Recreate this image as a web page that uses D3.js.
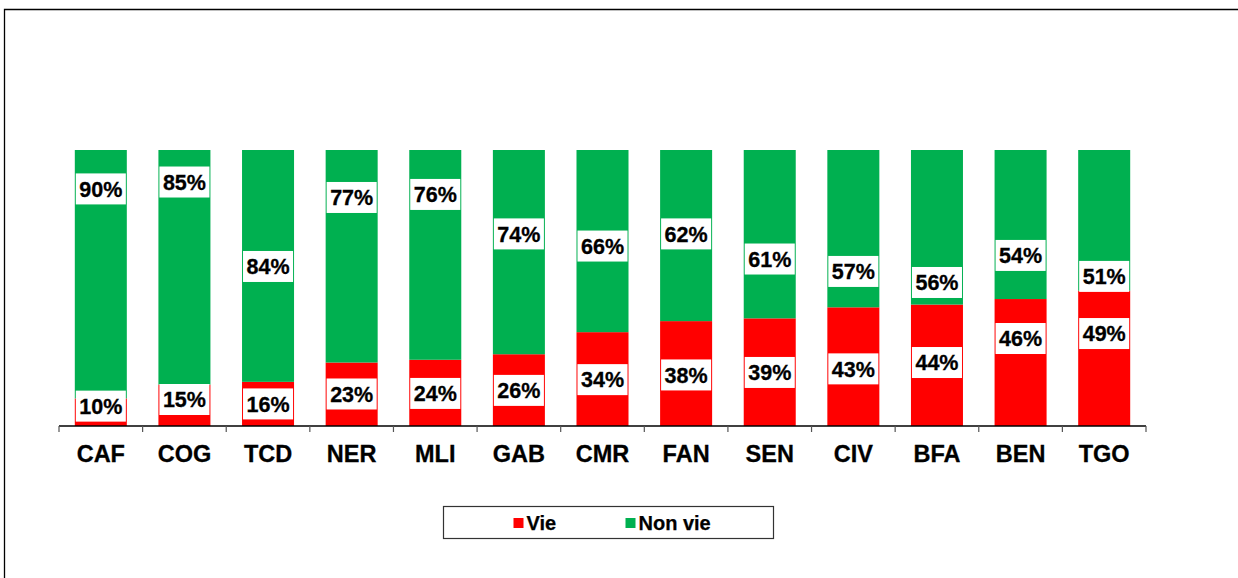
<!DOCTYPE html>
<html>
<head>
<meta charset="utf-8">
<script src="https://cdn.jsdelivr.net/npm/d3@7"></script>
<style>
  html, body { margin: 0; padding: 0; background: #fff; }
  svg { display: block; font-family: "Liberation Sans", Arial, sans-serif; }
</style>
</head>
<body>
<svg width="1238" height="578"></svg>
<script>
const countries = ["CAF", "COG", "TCD", "NER", "MLI", "GAB", "CMR", "FAN", "SEN", "CIV", "BFA", "BEN", "TGO"];
const vie    = [10, 15, 16, 23, 24, 26, 34, 38, 39, 43, 44, 46, 49];
const nonVie = [90, 85, 84, 77, 76, 74, 66, 62, 61, 57, 56, 54, 51];
// where the labels were dragged to (in % of the bar)
const vieLabelAt    = [7.2, 9.6, 8.0, 11.6, 11.8, 12.9, 16.8, 18.5, 19.4, 20.7, 23.0, 31.7, 33.5];
const nonVieLabelAt = [85.9, 88.4, 57.8, 82.8, 83.9, 69.6, 65.2, 69.6, 60.5, 56.0, 52.0, 61.8, 54.2];

const series = [
  { name: "Vie", values: vie, labelAt: vieLabelAt, color: "#FF0000" },
  { name: "Non vie", values: nonVie, labelAt: nonVieLabelAt, color: "#00B050" }
];

const svg = d3.select("svg");

// cadre de l'image
svg.append("path")
  .attr("d", "M4.5,578 V9.5 H1238")
  .attr("fill", "none")
  .attr("stroke", "#000")
  .attr("stroke-width", 1.3);

const x = d3.scaleBand()
  .domain(countries)
  .range([59, 1146])
  .paddingInner(0.378)
  .paddingOuter(0.189);

const y = d3.scaleLinear().domain([0, 100]).range([426, 150]);

// empilement : Vie en bas, Non vie au-dessus
const rows = countries.map((c, i) => ({ country: c, Vie: vie[i], "Non vie": nonVie[i] }));
const stacked = d3.stack().keys(series.map(s => s.name))(rows);

const g = svg.append("g");

stacked.forEach((layer, si) => {
  g.selectAll(".bar-" + si)
    .data(layer)
    .join("rect")
    .attr("x", d => x(d.data.country))
    .attr("width", x.bandwidth())
    .attr("y", d => y(d[1]))
    .attr("height", d => y(d[0]) - y(d[1]))
    .attr("fill", series[si].color);
});

// axe horizontal
const axisG = svg.append("g").attr("transform", "translate(0,426)");
axisG.append("line")
  .attr("x1", x.range()[0]).attr("x2", x.range()[1])
  .attr("stroke", "#000").attr("stroke-width", 1.3);
const edges = countries.map(c => x(c) - x.step() * x.paddingInner() / 2).concat([x.range()[1]]);
axisG.selectAll(".tick")
  .data(edges)
  .join("line")
  .attr("x1", d => d).attr("x2", d => d)
  .attr("y1", 0).attr("y2", 6)
  .attr("stroke", "#555").attr("stroke-width", 1.2);
axisG.selectAll(".cat")
  .data(countries)
  .join("text")
  .attr("x", d => x(d) + x.bandwidth() / 2)
  .attr("y", 35.5)
  .attr("text-anchor", "middle")
  .attr("font-size", 23.5)
  .attr("font-weight", "bold")
  .attr("fill", "#000")
  .attr("stroke", "#000").attr("stroke-width", 0.3)
  .text(d => d);

// étiquettes avec fond blanc
series.forEach(s => {
  countries.forEach((c, i) => {
    const cx = x(c) + x.bandwidth() / 2;
    const cy = y(s.labelAt[i]);
    const lg = svg.append("g").attr("transform", `translate(${cx},${cy})`);
    const box = lg.append("rect").attr("fill", "#fff");
    const t = lg.append("text")
      .attr("text-anchor", "middle")
      .attr("dy", "0.36em")
      .attr("font-size", 21.5)
      .attr("font-weight", "bold")
      .attr("fill", "#000")
      .attr("stroke", "#000").attr("stroke-width", 0.3)
      .text(s.values[i] + "%");
    const w = t.node().getComputedTextLength() + 7;
    box.attr("x", -w / 2).attr("width", w).attr("y", -15.5).attr("height", 31);
  });
});

// légende
const legend = svg.append("g").attr("transform", "translate(443.5,506.5)");
legend.append("rect")
  .attr("width", 330).attr("height", 32)
  .attr("fill", "#fff").attr("stroke", "#333").attr("stroke-width", 1.2);
const legX = [70, 182];
series.forEach((s, i) => {
  const item = legend.append("g").attr("transform", `translate(${legX[i]},0)`);
  item.append("rect").attr("x", 0).attr("y", 11.5).attr("width", 10).attr("height", 10).attr("fill", s.color);
  item.append("text")
    .attr("x", 13).attr("y", 16)
    .attr("dy", "0.36em")
    .attr("font-size", 20)
    .attr("font-weight", "bold")
    .attr("fill", "#000")
    .attr("stroke", "#000").attr("stroke-width", 0.25)
    .text(s.name);
});
</script>
</body>
</html>
